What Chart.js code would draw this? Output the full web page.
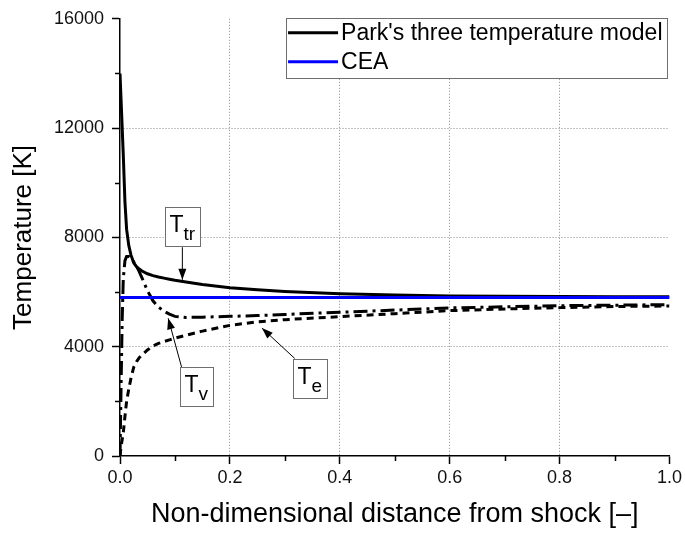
<!DOCTYPE html>
<html>
<head>
<meta charset="utf-8">
<script src="https://cdn.jsdelivr.net/npm/chart.js@4.4.1/dist/chart.umd.min.js"></script>
<style>
  html, body { margin: 0; padding: 0; background: #fff; }
  #wrap { width: 685px; height: 536px; }
</style>
</head>
<body>
<div id="wrap"><canvas id="chart"></canvas></div>
<script>
// distance behind the shock, shared by the three Park curves
const distance = [0, 0.002, 0.004, 0.006, 0.009, 0.012, 0.016, 0.02, 0.025, 0.03, 0.035, 0.04, 0.05, 0.06, 0.07,
  0.08, 0.09, 0.1, 0.12, 0.15, 0.2, 0.25, 0.3, 0.4, 0.5, 0.6, 0.7, 0.8, 0.9, 1.0];

// translational-rotational temperature
const tTr = [14000, 13000, 12000, 11000, 9300, 8300, 7700, 7350, 7070, 6930, 6840, 6770, 6670, 6600, 6550,
  6510, 6470, 6430, 6370, 6280, 6160, 6080, 6020, 5940, 5890, 5860, 5845, 5835, 5830, 5825];

// vibrational temperature
const tV = [0, 2600, 5000, 6500, 7150, 7300, 7300, 7230, 7100, 6950, 6750, 6520, 6050, 5680, 5450,
  5300, 5190, 5110, 5070, 5080, 5110, 5140, 5180, 5260, 5340, 5420, 5460, 5500, 5520, 5540];

// electron temperature
const tE = [0, 350, 600, 850, 1450, 2000, 2450, 2850, 3250, 3450, 3600, 3700, 3880, 4030, 4120,
  4190, 4250, 4310, 4420, 4570, 4780, 4910, 4990, 5100, 5210, 5320, 5380, 5430, 5470, 5490];

// equilibrium value from CEA
const ceaDistance = [0, 1];
const ceaTemp = [5800, 5800];

const xLabelled = [0, 0.2, 0.4, 0.6, 0.8, 1.0];
const yLabelled = [0, 4000, 8000, 12000, 16000];

// curve labels: box centre, arrow start and arrow tip, in data units
const callouts = [
  { main: 'T', sub: 'tr', box: [0.1145, 8400], from: [0.1135, 7640], to: [0.1135, 6450] },
  { main: 'T', sub: 'v', box: [0.1385, 2550], from: [0.112, 3260], to: [0.0877, 5040] },
  { main: 'T', sub: 'e', box: [0.3465, 2850], from: [0.318, 3570], to: [0.2583, 4680] }
];

const FONT = "'Liberation Sans', Arial, sans-serif";

function pts(xs, ys) {
  return xs.map((x, i) => ({ x: x, y: ys[i] }));
}

function isLabelled(list, v) {
  return list.some(t => Math.abs(t - v) < 1e-6);
}

// minor ticks, shorter than the major ones
const minorTicks = {
  id: 'minorTicks',
  afterDraw(chart) {
    const ctx = chart.ctx;
    const xs = chart.scales.x, ys = chart.scales.y;
    ctx.save();
    ctx.strokeStyle = '#000';
    ctx.lineWidth = 1.5;
    ctx.beginPath();
    xs.ticks.forEach(t => {
      if (isLabelled(xLabelled, t.value)) return;
      const px = Math.round(xs.getPixelForValue(t.value)) + 0.5;
      ctx.moveTo(px, ys.bottom);
      ctx.lineTo(px, ys.bottom + 5);
    });
    ys.ticks.forEach(t => {
      if (isLabelled(yLabelled, t.value)) return;
      const py = Math.round(ys.getPixelForValue(t.value)) + 0.5;
      ctx.moveTo(xs.left - 5, py);
      ctx.lineTo(xs.left, py);
    });
    ctx.stroke();
    ctx.restore();
  }
};

// boxed legend inside the top right corner
const boxLegend = {
  id: 'boxLegend',
  afterDraw(chart) {
    const ctx = chart.ctx;
    const area = chart.chartArea;
    const items = [
      { text: chart.data.datasets[0].label, color: chart.data.datasets[0].borderColor },
      { text: chart.data.datasets[3].label, color: chart.data.datasets[3].borderColor }
    ];
    ctx.save();
    ctx.font = '23px ' + FONT;
    const textW = Math.max(...items.map(it => ctx.measureText(it.text).width));
    const w = 2 + 50 + 3 + textW + 5;
    const h = 60;
    const x0 = area.right - 2 - w;
    const y0 = area.top - 1;
    ctx.fillStyle = '#fff';
    ctx.fillRect(x0, y0, w, h);
    ctx.strokeStyle = '#6e6e6e';
    ctx.lineWidth = 1;
    ctx.strokeRect(Math.round(x0) + 0.5, Math.round(y0) + 0.5, Math.round(w), h);
    items.forEach((it, i) => {
      const cy = y0 + 15 + i * 29;
      ctx.strokeStyle = it.color;
      ctx.lineWidth = 3;
      ctx.beginPath();
      ctx.moveTo(x0 + 2, cy);
      ctx.lineTo(x0 + 52, cy);
      ctx.stroke();
      ctx.fillStyle = '#000';
      ctx.textBaseline = 'middle';
      ctx.fillText(it.text, x0 + 55, cy + 1);
    });
    ctx.restore();
  }
};

// boxed curve names with arrows
const calloutPlugin = {
  id: 'callouts',
  afterDraw(chart) {
    const ctx = chart.ctx;
    const xs = chart.scales.x, ys = chart.scales.y;
    ctx.save();
    callouts.forEach(c => {
      const fx = xs.getPixelForValue(c.from[0]), fy = ys.getPixelForValue(c.from[1]);
      const tx = xs.getPixelForValue(c.to[0]), ty = ys.getPixelForValue(c.to[1]);
      // arrow shaft
      ctx.strokeStyle = '#000';
      ctx.lineWidth = 1;
      ctx.beginPath();
      ctx.moveTo(fx, fy);
      ctx.lineTo(tx, ty);
      ctx.stroke();
      // arrow head
      const ang = Math.atan2(ty - fy, tx - fx);
      const len = 11, half = 4;
      ctx.fillStyle = '#000';
      ctx.beginPath();
      ctx.moveTo(tx, ty);
      ctx.lineTo(tx - len * Math.cos(ang) + half * Math.sin(ang), ty - len * Math.sin(ang) - half * Math.cos(ang));
      ctx.lineTo(tx - len * Math.cos(ang) - half * Math.sin(ang), ty - len * Math.sin(ang) + half * Math.cos(ang));
      ctx.closePath();
      ctx.fill();

      // box
      ctx.font = '23px ' + FONT;
      const mw = ctx.measureText(c.main).width;
      ctx.font = '19px ' + FONT;
      const sw = ctx.measureText(c.sub).width;
      const bw = Math.round(mw + sw + 9), bh = 39;
      const cx = xs.getPixelForValue(c.box[0]), cy = ys.getPixelForValue(c.box[1]);
      const bx = Math.round(cx - bw / 2) + 0.5, by = Math.round(cy - bh / 2) + 0.5;
      ctx.fillStyle = '#fff';
      ctx.fillRect(bx, by, bw, bh);
      ctx.strokeStyle = '#6e6e6e';
      ctx.strokeRect(bx, by, bw, bh);
      ctx.fillStyle = '#000';
      ctx.textBaseline = 'alphabetic';
      ctx.font = '23px ' + FONT;
      ctx.fillText(c.main, bx + 4, by + 24);
      ctx.font = '19px ' + FONT;
      ctx.fillText(c.sub, bx + 4 + mw, by + 32);
    });
    ctx.restore();
  }
};

const lineBase = { showLine: true, pointRadius: 0, fill: false, tension: 0 };

// dotted grey lines only at the inner labelled ticks
function gridColor(list, lo, hi) {
  return ctx => (ctx.tick && isLabelled(list, ctx.tick.value) && ctx.tick.value > lo && ctx.tick.value < hi)
    ? '#8a8a8a' : 'rgba(0,0,0,0)';
}

function tickColor(list) {
  return ctx => (ctx.tick && isLabelled(list, ctx.tick.value)) ? '#000' : 'rgba(0,0,0,0)';
}

new Chart(document.getElementById('chart'), {
  type: 'scatter',
  data: {
    datasets: [
      Object.assign({ label: "Park's three temperature model", data: pts(distance, tTr),
        borderColor: '#000', borderWidth: 3, order: 2 }, lineBase),
      Object.assign({ label: 'Tv', data: pts(distance, tV),
        borderColor: '#000', borderWidth: 3, borderDash: [14, 5, 3, 5], order: 3 }, lineBase),
      Object.assign({ label: 'Te', data: pts(distance, tE),
        borderColor: '#000', borderWidth: 3, borderDash: [7, 5], order: 4 }, lineBase),
      Object.assign({ label: 'CEA', data: pts(ceaDistance, ceaTemp),
        borderColor: '#0000ff', borderWidth: 3, order: 1 }, lineBase)
    ]
  },
  options: {
    responsive: true,
    maintainAspectRatio: false,
    animation: false,
    layout: { padding: { top: 14, right: 14, left: 0, bottom: 0 } },
    plugins: {
      legend: { display: false },
      tooltip: { enabled: false }
    },
    scales: {
      x: {
        type: 'linear',
        min: 0,
        max: 1,
        afterFit: s => { s.height = 80; },
        border: { display: true, color: '#000', width: 1.5, dash: [1, 2] },
        grid: {
          color: gridColor(xLabelled, 0, 1),
          tickColor: tickColor(xLabelled),
          tickBorderDash: [],
          lineWidth: 1,
          tickWidth: 1.5,
          tickLength: 8
        },
        ticks: {
          stepSize: 0.1,
          autoSkip: false,
          maxRotation: 0,
          padding: 3,
          color: '#111',
          font: { family: FONT, size: 18 },
          callback: v => isLabelled(xLabelled, v) ? v.toFixed(1) : ''
        },
        title: {
          display: true,
          text: 'Non-dimensional distance from shock [–]',
          color: '#000',
          font: { family: FONT, size: 27 },
          padding: { top: 0, bottom: 5 }
        }
      },
      y: {
        min: 0,
        max: 16000,
        afterFit: s => { s.width = 120; },
        border: { display: true, color: '#000', width: 1.5, dash: [1, 2] },
        grid: {
          color: gridColor(yLabelled, 0, 16000),
          tickColor: tickColor(yLabelled),
          tickBorderDash: [],
          lineWidth: 1,
          tickWidth: 1.5,
          tickLength: 8
        },
        ticks: {
          stepSize: 2000,
          autoSkip: false,
          padding: 8,
          color: '#111',
          font: { family: FONT, size: 18 },
          callback: v => isLabelled(yLabelled, v) ? String(v) : ''
        },
        title: {
          display: true,
          text: 'Temperature [K]',
          color: '#000',
          font: { family: FONT, size: 26 },
          padding: { top: 8, bottom: 0 }
        }
      }
    }
  },
  plugins: [minorTicks, calloutPlugin, boxLegend]
});
</script>
</body>
</html>
